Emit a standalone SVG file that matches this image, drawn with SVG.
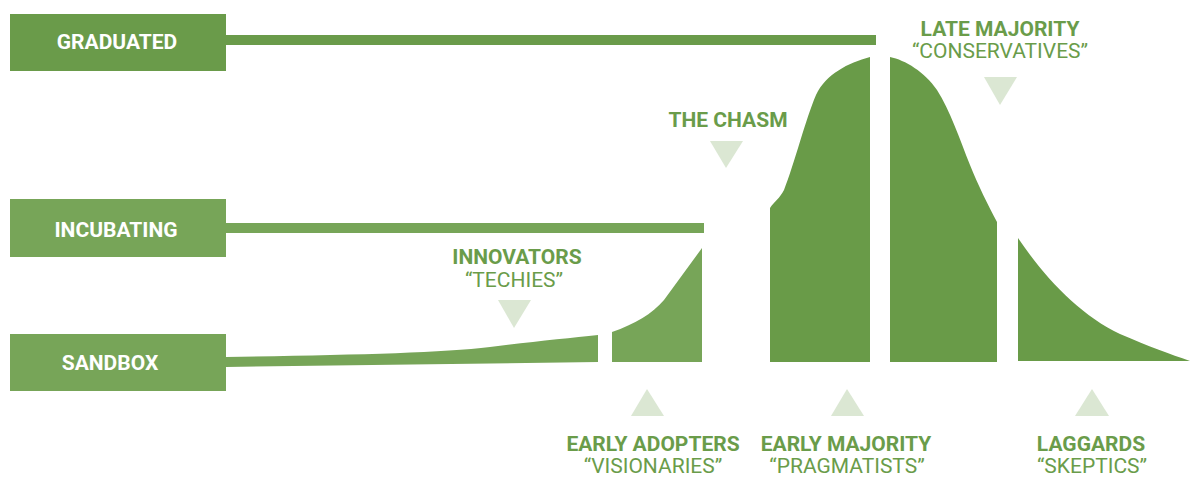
<svg xmlns="http://www.w3.org/2000/svg" width="1190" height="478" viewBox="0 0 1190 478">
  <style>
    .box-dark { fill: #6a9b4a; }
    .box-light { fill: #77a558; }
    .box-text { font-family: Roboto, "Liberation Sans", sans-serif; font-weight: 700; font-size: 21px; fill: #ffffff; text-anchor: middle; }
    .head { font-family: Roboto, "Liberation Sans", sans-serif; font-weight: 700; font-size: 21px; fill: #6a9c4a; text-anchor: middle; }
    .sub { font-family: Roboto, "Liberation Sans", sans-serif; font-weight: 400; font-size: 21px; fill: #6a9c4a; text-anchor: middle; }
    .pointer { fill: #dbe7d3; }
    .curve-dark { fill: #699b48; }
    .curve-light { fill: #77a558; }
  </style>

  <!-- stage boxes -->
  <g id="graduated">
    <rect class="box-dark" x="10" y="14" width="216" height="57"/>
    <text class="box-text" x="117" y="49">GRADUATED</text>
  </g>
  <g id="incubating">
    <rect class="box-light" x="10" y="199" width="216" height="58"/>
    <text class="box-text" x="116" y="237">INCUBATING</text>
  </g>
  <g id="sandbox">
    <rect class="box-light" x="10" y="334" width="216" height="57"/>
    <text class="box-text" x="110" y="370">SANDBOX</text>
  </g>

  <!-- lines leading out of the stage boxes -->
  <g id="connectors">
    <rect class="box-dark" x="226" y="35" width="650" height="10"/>
    <rect class="box-light" x="226" y="223" width="478" height="10"/>
    <path class="curve-light" d="M226,357 C350,355 440,353 490,347 C530,342 570,338 598,335 L598,362 L226,367 Z"/>
  </g>

  <!-- adoption curve segments -->
  <g id="adoption-curve">
    <path class="curve-light" d="M612,332 C635,324 652,314 664,300 L702,248 L702,362 L612,362 Z"/>
    <path class="curve-dark" d="M870,57 C848,63 826,74 816,95 C806,118 794,165 784,190 C780,198 774,202 770,208 L770,362 L870,362 Z"/>
    <path class="curve-dark" d="M890,57 C905,60 925,72 937,90 C950,110 960,140 970,165 C978,185 988,205 997,222 L997,362 L890,362 Z"/>
    <path class="curve-dark" d="M1018,238 C1045,278 1080,315 1120,334 C1150,347 1170,354 1190,361 L1018,361 Z"/>
  </g>

  <!-- segment labels with pointers -->
  <g id="innovators">
    <text class="head" x="517" y="264">INNOVATORS</text>
    <text class="sub" x="514" y="287">“TECHIES”</text>
    <polygon class="pointer" points="498,300 531,300 514,328"/>
  </g>
  <g id="the-chasm">
    <text class="head" x="728" y="127">THE CHASM</text>
    <polygon class="pointer" points="710,141 743,141 726,168"/>
  </g>
  <g id="late-majority">
    <text class="head" x="1000" y="36">LATE MAJORITY</text>
    <text class="sub" x="1000" y="58">“CONSERVATIVES”</text>
    <polygon class="pointer" points="984,77 1017,77 1000,105"/>
  </g>
  <g id="early-adopters">
    <polygon class="pointer" points="647,389 664,416 631,416"/>
    <text class="head" x="653" y="451">EARLY ADOPTERS</text>
    <text class="sub" x="653" y="473">“VISIONARIES”</text>
  </g>
  <g id="early-majority">
    <polygon class="pointer" points="847,389 864,416 831,416"/>
    <text class="head" x="846" y="451">EARLY MAJORITY</text>
    <text class="sub" x="847" y="473">“PRAGMATISTS”</text>
  </g>
  <g id="laggards">
    <polygon class="pointer" points="1092,389 1109,416 1075,416"/>
    <text class="head" x="1091" y="451">LAGGARDS</text>
    <text class="sub" x="1092" y="473">“SKEPTICS”</text>
  </g>
</svg>
